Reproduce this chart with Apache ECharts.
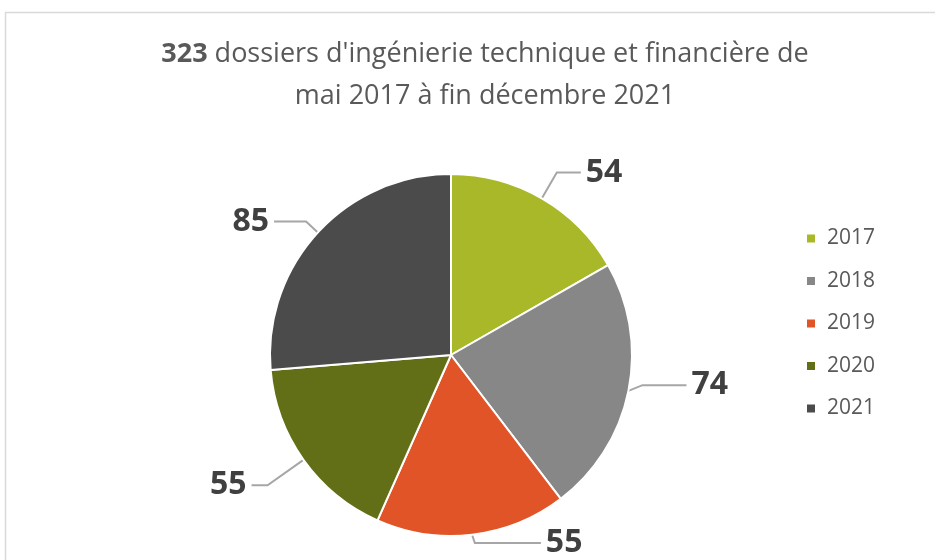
<!DOCTYPE html>
<html>
	<head>
		<meta charset="utf-8">
		<title>323 dossiers</title>
		<script src="https://cdn.jsdelivr.net/npm/echarts@6/dist/echarts.min.js"></script>
	</head>
	<body style="margin: 0px;">
		<div id="main" style="width: 935px;height:560px;"></div>
		<script type="text/javascript">
			// données
			var annees = ['2017', '2018', '2019', '2020', '2021'];
			var dossiers = [54, 74, 55, 55, 85];
			var couleurs = ['#a8b828', '#878787', '#e05427', '#636f17', '#4b4b4b'];
			// longueurs des traits d'étiquette (style)
			var traits = [[30, 24], [18, 44], [24, 66], [44, 16], [16, 32]];

			var data = annees.map(function(a, i) {
				return {
					name: a,
					value: dossiers[i],
					itemStyle: { color: couleurs[i] },
					labelLine: { length: traits[i][0], length2: traits[i][1] }
				};
			});

			var myChart = echarts.init(document.getElementById('main'));
			var option = {
				backgroundColor: '#fff',
				textStyle: { fontFamily: 'Open Sans' },
				graphic: [{
					type: 'rect',
					shape: { x: 5.5, y: 12.5, width: 940, height: 560 },
					style: { fill: null, stroke: '#d9d9d9', lineWidth: 1.5 },
					silent: true
				}],
				title: {
					text: '{b|323} dossiers d\'ingénierie technique et financière de\nmai 2017 à fin décembre 2021',
					left: 480,
					textAlign: 'center',
					top: 28,
					textStyle: {
						fontSize: 27,
						fontWeight: 'normal',
						color: '#595959',
						lineHeight: 42,
						rich: {
							b: { fontSize: 27, fontWeight: 'bold', color: '#595959', lineHeight: 42 }
						}
					}
				},
				legend: {
					orient: 'vertical',
					left: 800,
					top: 223,
					itemWidth: 10,
					itemHeight: 10,
					itemGap: 21.5,
					icon: 'rect',
					textStyle: { fontSize: 21, color: '#595959', padding: [0, 0, 0, 6] },
					data: annees
				},
				series: [{
					type: 'pie',
					center: [451, 355],
					radius: 181,
					startAngle: 90,
					clockwise: true,
					itemStyle: { borderColor: '#fff', borderWidth: 2 },
					label: {
						show: true,
						position: 'outside',
						formatter: '{c}',
						fontSize: 32,
						fontWeight: 'bold',
						color: '#404040'
					},
					labelLine: {
						show: true,
						length: 20,
						length2: 28,
						lineStyle: { color: '#a6a6a6', width: 2 }
					},
					emphasis: { disabled: true },
					data: data
				}]
			};
			myChart.setOption(option);
		</script>
	</body>
</html>
